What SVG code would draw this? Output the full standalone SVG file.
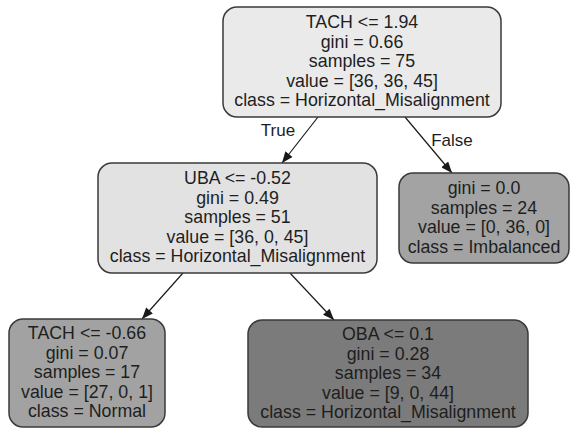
<svg xmlns="http://www.w3.org/2000/svg" width="571" height="429" viewBox="0 0 571 429">
<defs>
<marker id="arr" viewBox="0 0 10 8" refX="10" refY="4" markerWidth="12" markerHeight="9" markerUnits="userSpaceOnUse" orient="auto">
<path d="M0,0 L10,4 L0,8 Z" fill="#1a1a1a"/>
</marker>
<style>
.box{stroke:#3a3a3a;stroke-width:1.5}
text{font-family:"Liberation Sans",Arial,sans-serif;font-size:17.8px;fill:#1e1e1e;text-anchor:middle}
.edge{stroke:#1a1a1a;stroke-width:1.2;fill:none;marker-end:url(#arr)}
.lbl{font-size:17px}
</style>
</defs>
<rect width="571" height="429" fill="#ffffff"/>
<g id="connectors">
<line class="edge" x1="318" y1="117" x2="282" y2="163"/>
<line class="edge" x1="405" y1="117" x2="452" y2="173"/>
<line class="edge" x1="183" y1="273" x2="142" y2="319"/>
<line class="edge" x1="290" y1="273" x2="334" y2="320"/>
<text class="lbl" x="278" y="136">True</text>
<text class="lbl" x="452" y="146">False</text>
</g>
<g id="node0">
<rect class="box" x="223" y="7" width="278" height="110" rx="14" fill="#eaeaea"/>
<text x="362" y="28">TACH &lt;= 1.94</text>
<text x="362" y="47.5">gini = 0.66</text>
<text x="362" y="67">samples = 75</text>
<text x="362" y="86.5">value = [36, 36, 45]</text>
<text x="362" y="106">class = Horizontal_Misalignment</text>
</g>
<g id="node1">
<rect class="box" x="98" y="163" width="279" height="110" rx="14" fill="#e2e2e2"/>
<text x="237.5" y="184">UBA &lt;= -0.52</text>
<text x="237.5" y="203.5">gini = 0.49</text>
<text x="237.5" y="223">samples = 51</text>
<text x="237.5" y="242.5">value = [36, 0, 45]</text>
<text x="237.5" y="262">class = Horizontal_Misalignment</text>
</g>
<g id="node2">
<rect class="box" x="399" y="173" width="170" height="90" rx="14" fill="#a3a3a3"/>
<text x="484" y="194">gini = 0.0</text>
<text x="484" y="213.5">samples = 24</text>
<text x="484" y="233">value = [0, 36, 0]</text>
<text x="484" y="252.5">class = Imbalanced</text>
</g>
<g id="node3">
<rect class="box" x="9" y="319" width="156" height="108" rx="14" fill="#a2a2a2"/>
<text x="87" y="339">TACH &lt;= -0.66</text>
<text x="87" y="358.5">gini = 0.07</text>
<text x="87" y="378">samples = 17</text>
<text x="87" y="397.5">value = [27, 0, 1]</text>
<text x="87" y="417">class = Normal</text>
</g>
<g id="node4">
<rect class="box" x="248" y="320" width="280" height="107" rx="14" fill="#7b7b7b"/>
<text x="388" y="340">OBA &lt;= 0.1</text>
<text x="388" y="359.5">gini = 0.28</text>
<text x="388" y="379">samples = 34</text>
<text x="388" y="398.5">value = [9, 0, 44]</text>
<text x="388" y="418">class = Horizontal_Misalignment</text>
</g>
</svg>
